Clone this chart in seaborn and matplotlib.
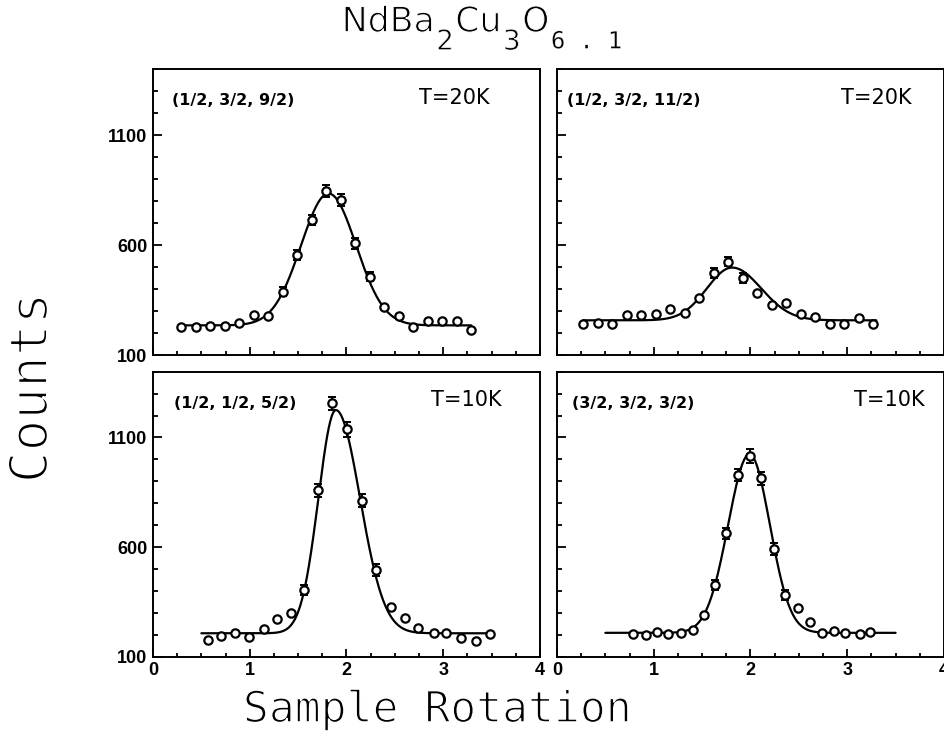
import numpy as np
import pandas as pd
import matplotlib
matplotlib.use("Agg")
import matplotlib.pyplot as plt
import matplotlib.patheffects as pe
from matplotlib.text import Annotation
from matplotlib.ticker import MultipleLocator, FixedLocator
import seaborn as sns

# ---------------- data ----------------
x_tl = [0.29, 0.44, 0.59, 0.74, 0.89, 1.04, 1.19, 1.34, 1.49, 1.64, 1.79,
        1.94, 2.09, 2.24, 2.39, 2.54, 2.69, 2.84, 2.99, 3.14, 3.29]
y_tl = [226, 226, 233, 233, 244, 282, 277, 388, 555, 714, 848,
        805, 608, 456, 320, 277, 229, 255, 255, 255, 214]
e_tl = [0, 0, 0, 0, 0, 0, 0, 20, 22, 24, 27, 27, 24, 21, 0, 0, 0, 0, 0, 0, 0]

x_tr = [0.27, 0.42, 0.57, 0.72, 0.87, 1.02, 1.17, 1.32, 1.47, 1.62, 1.77,
        1.92, 2.07, 2.22, 2.37, 2.52, 2.67, 2.82, 2.97, 3.12, 3.27]
y_tr = [241, 247, 241, 280, 280, 285, 311, 290, 361, 472, 525,
        452, 384, 327, 335, 285, 274, 241, 241, 270, 241]
e_tr = [0, 0, 0, 0, 0, 0, 0, 0, 0, 22, 22, 22, 0, 0, 0, 0, 0, 0, 0, 0, 0]

x_bl = [0.57, 0.70, 0.85, 0.99, 1.15, 1.28, 1.43, 1.56, 1.71, 1.85, 2.01,
        2.16, 2.30, 2.46, 2.60, 2.74, 2.90, 3.03, 3.18, 3.34, 3.48]
y_bl = [176, 194, 207, 191, 225, 271, 298, 404, 860, 1255, 1137,
        811, 495, 328, 278, 229, 207, 207, 184, 173, 203]
e_bl = [0, 0, 0, 0, 0, 0, 0, 23, 30, 30, 33, 29, 27, 0, 0, 0, 0, 0, 0, 0, 0]

x_br = [0.79, 0.92, 1.03, 1.15, 1.28, 1.41, 1.52, 1.63, 1.75, 1.87, 1.99,
        2.11, 2.24, 2.36, 2.49, 2.62, 2.74, 2.86, 2.98, 3.13, 3.24]
y_br = [203, 199, 211, 202, 207, 222, 290, 427, 663, 929, 1015,
        913, 590, 381, 321, 260, 207, 217, 209, 202, 214]
e_br = [0, 0, 0, 0, 0, 0, 0, 23, 25, 28, 32, 28, 27, 22, 0, 0, 0, 0, 0, 0, 0]

# Gaussian fit parameters: centre, sigma_left, sigma_right, amplitude, background, x-range
fit_tl = dict(c=1.815, sl=0.285, sr=0.285, a=600, b=235, x0=0.29, x1=3.29)
fit_tr = dict(c=1.81, sl=0.26, sr=0.30, a=240, b=258, x0=0.27, x1=3.30)
fit_bl = dict(c=1.89, sl=0.18, sr=0.25, a=1018, b=207, x0=0.50, x1=3.50)
fit_br = dict(c=1.99, sl=0.22, sr=0.21, a=815, b=209, x0=0.50, x1=3.50)

labels = ["(1/2, 3/2, 9/2)", "(1/2, 3/2, 11/2)", "(1/2, 1/2, 5/2)", "(3/2, 3/2, 3/2)"]
temps = ["T=20K", "T=20K", "T=10K", "T=10K"]
x_ticks = [0, 1, 2, 3, 4]
y_ticks = [100, 600, 1100]

# ---------------- style ----------------
sns.set_theme(style="ticks")
plt.rcParams["font.family"] = ["DejaVu Sans"]
plt.rcParams["axes.linewidth"] = 1.4

fig = plt.figure(figsize=(9.45, 7.44), dpi=100)
W, H = 0.4095, 0.384
rects = [
    [0.1619, 0.5228, W, H],
    [0.5894, 0.5228, W, H],
    [0.1619, 0.1173, W, 0.3831],
    [0.5894, 0.1173, W, 0.3831],
]
datasets = [(x_tl, y_tl, e_tl, fit_tl), (x_tr, y_tr, e_tr, fit_tr),
            (x_bl, y_bl, e_bl, fit_bl), (x_br, y_br, e_br, fit_br)]
lab_pos = [(0.05, 0.89), (0.026, 0.89), (0.054, 0.89), (0.04, 0.89)]
temp_pos = [(0.871, 0.90), (0.917, 0.90), (0.90, 0.90), (0.95, 0.90)]


def split_gauss(x, p):
    s = np.where(x < p["c"], p["sl"], p["sr"])
    return p["b"] + p["a"] * np.exp(-0.5 * ((x - p["c"]) / s) ** 2)


for i, (rect, (xs, ys, es, fit)) in enumerate(zip(rects, datasets)):
    ax = fig.add_axes(rect)
    xf = np.linspace(fit["x0"], fit["x1"], 400)
    df_fit = pd.DataFrame({"x": xf, "y": split_gauss(xf, fit)})
    sns.lineplot(data=df_fit, x="x", y="y", ax=ax, color="black", lw=1.6, zorder=2)
    xs_a, ys_a, es_a = np.array(xs), np.array(ys), np.array(es)
    m = es_a > 0
    ax.errorbar(xs_a[m], ys_a[m], yerr=es_a[m], fmt="none", ecolor="black",
                elinewidth=1.4, capsize=3.2, capthick=1.4, zorder=3)
    df_pts = pd.DataFrame({"x": xs, "y": ys})
    sns.scatterplot(data=df_pts, x="x", y="y", ax=ax, marker="o", s=36,
                    facecolor="white", edgecolor="black", linewidth=1.6, zorder=4)
    ax.set_xlim(0, 4)
    ax.set_ylim(100, 1400)
    ax.set_xlabel("")
    ax.set_ylabel("")
    ax.xaxis.set_major_locator(FixedLocator(x_ticks))
    ax.xaxis.set_minor_locator(MultipleLocator(0.25))
    ax.yaxis.set_major_locator(FixedLocator(y_ticks))
    ax.yaxis.set_minor_locator(MultipleLocator(100))
    ax.tick_params(axis="both", which="both", direction="in", top=False, right=False,
                   color="black", width=1.3)
    ax.tick_params(axis="x", which="major", length=6, pad=4)
    ax.tick_params(axis="x", which="minor", length=2.8)
    ax.tick_params(axis="y", which="major", length=6.5, pad=4)
    ax.tick_params(axis="y", which="minor", length=3.6)
    for sp in ax.spines.values():
        sp.set_color("black")
        sp.set_linewidth(1.4)
    for t in ax.get_xticklabels() + ax.get_yticklabels():
        t.set_fontfamily("Liberation Sans")
        t.set_fontweight("bold")
        t.set_fontsize(13)
        t.set_color("black")
    if i in (0, 1):
        ax.set_xticklabels([])
    if i in (1, 3):
        ax.set_yticklabels([])
    ax.text(lab_pos[i][0], lab_pos[i][1], labels[i], transform=ax.transAxes,
            ha="left", va="center", fontsize=11.5, fontweight="bold", color="black")
    ax.text(temp_pos[i][0], temp_pos[i][1], temps[i], transform=ax.transAxes,
            ha="right", va="center", fontsize=15, color="black")

# ---------------- title with full-size offset subscripts ----------------
# (text, fontsize, y offset pt, family, x gap pt, thinning stroke width)
pieces = [("NdBa", 25, 0, "DejaVu Sans", 0, 0.8),
          ("2", 20, -13, "DejaVu Sans", 1, 0.5),
          ("Cu", 25, 0, "DejaVu Sans", 1, 0.8),
          ("3", 20, -13, "DejaVu Sans", 1, 0.5),
          ("O", 25, 0, "DejaVu Sans", 1, 0.8),
          ("6 . 1", 17, -12, "DejaVu Sans Mono", 1, 0.2)]
base_y = 0.9574
p0 = pieces[0]
prev = fig.text(341.7 / 945, base_y, p0[0], fontsize=p0[1], family=p0[3],
                ha="left", va="baseline", color="black",
                path_effects=[pe.Stroke(linewidth=p0[5], foreground="white")])
for txt, fs, dy, fam, dx, sw in pieces[1:]:
    ann = Annotation(txt, xy=(1, base_y), xycoords=(prev, "figure fraction"),
                     xytext=(dx, dy), textcoords="offset points", fontsize=fs,
                     family=fam, ha="left", va="baseline", color="black",
                     annotation_clip=False,
                     path_effects=[pe.Stroke(linewidth=sw, foreground="white")])
    fig.add_artist(ann)
    prev = ann

fig.text(0.034, 0.4785, "Counts", rotation=90, ha="center", va="center",
         fontsize=38, family="DejaVu Sans Mono", color="black",
         path_effects=[pe.Stroke(linewidth=1.6, foreground="white")])
fig.text(0.4624, 0.0296, "Sample Rotation", ha="center", va="baseline",
         fontsize=31, family="DejaVu Sans Mono", color="black",
         path_effects=[pe.Stroke(linewidth=1.1, foreground="white")])

fig.savefig("out.png", dpi=100, facecolor="white")
